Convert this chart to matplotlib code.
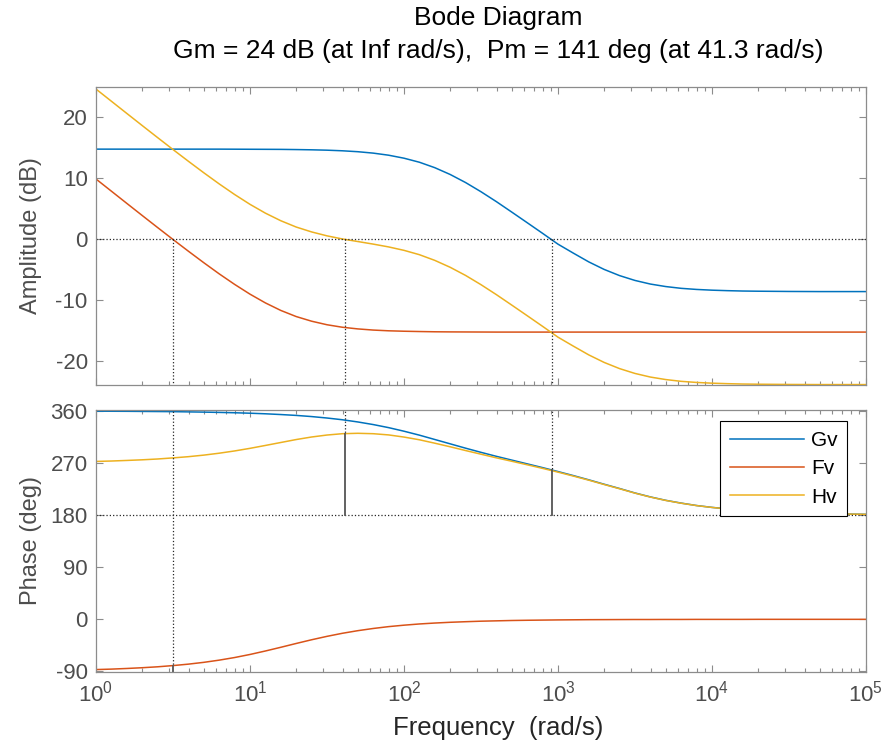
import matplotlib.pyplot as plt
from matplotlib.ticker import LogLocator, NullFormatter

plt.rcParams['font.family'] = ['Liberation Sans', 'DejaVu Sans']
plt.rcParams['axes.unicode_minus'] = False

# frequency grid (rad/s), 10 points per decade
w = [1, 1.259, 1.585, 1.995, 2.512, 3.162, 3.981, 5.012, 6.310, 7.943,
     10, 12.59, 15.85, 19.95, 25.12, 31.62, 39.81, 50.12, 63.10, 79.43,
     100, 125.9, 158.5, 199.5, 251.2, 316.2, 398.1, 501.2, 631.0, 794.3,
     1000, 1259, 1585, 1995, 2512, 3162, 3981, 5012, 6310, 7943,
     10000, 12590, 15850, 19950, 25120, 31620, 39810, 50120, 63100, 79430,
     100000]

# magnitudes (dB)
gv_mag = [14.70, 14.70, 14.70, 14.70, 14.70, 14.70, 14.70, 14.70, 14.70, 14.69,
          14.68, 14.67, 14.66, 14.63, 14.59, 14.53, 14.43, 14.28, 14.05, 13.71,
          13.22, 12.56, 11.67, 10.56, 9.24, 7.74, 6.12, 4.41, 2.68, 0.94,
          -0.83, -2.30, -3.73, -4.96, -5.97, -6.76, -7.35, -7.76, -8.05, -8.23,
          -8.35, -8.43, -8.49, -8.52, -8.54, -8.56, -8.57, -8.58, -8.58, -8.58,
          -8.58]
fv_mag = [9.82, 7.83, 5.84, 3.86, 1.89, -0.06, -1.98, -3.86, -5.68, -7.40,
          -9.00, -10.43, -11.66, -12.66, -13.42, -14.00, -14.41, -14.68, -14.87, -14.99,
          -15.06, -15.11, -15.15, -15.17, -15.18, -15.19, -15.20, -15.20, -15.20, -15.20,
          -15.20, -15.20, -15.20, -15.20, -15.20, -15.20, -15.20, -15.20, -15.20, -15.20,
          -15.20, -15.20, -15.20, -15.20, -15.20, -15.20, -15.20, -15.20, -15.20, -15.20,
          -15.20]
hv_mag = [24.52, 22.53, 20.54, 18.56, 16.59, 14.64, 12.72, 10.84, 9.02, 7.29,
          5.68, 4.24, 3.00, 1.97, 1.17, 0.53, 0.02, -0.40, -0.82, -1.28,
          -1.84, -2.55, -3.48, -4.61, -5.94, -7.45, -9.08, -10.79, -12.52, -14.26,
          -16.03, -17.50, -18.93, -20.16, -21.17, -21.96, -22.55, -22.96, -23.25, -23.43,
          -23.55, -23.63, -23.69, -23.72, -23.74, -23.76, -23.77, -23.78, -23.78, -23.78,
          -23.78]

# phases (deg)
gv_ph = [359.6, 359.5, 359.4, 359.2, 359.0, 358.8, 358.4, 358.0, 357.5, 356.9,
         356.1, 355.1, 353.8, 352.3, 350.3, 347.8, 344.8, 341.0, 336.5, 331.2,
         325.0, 318.2, 310.7, 303.2, 295.7, 288.5, 281.6, 275.1, 268.6, 262.1,
         255.3, 248.3, 241.0, 233.4, 226.0, 218.3, 211.5, 205.6, 200.8, 196.6,
         193.4, 190.8, 188.6, 186.9, 185.6, 184.4, 183.5, 182.8, 182.2, 181.8,
         181.4]
fv_ph = [-86.8, -86.0, -84.9, -83.6, -82.0, -79.9, -77.4, -74.3, -70.5, -66.0,
         -60.7, -54.7, -48.3, -41.7, -35.3, -29.4, -24.1, -19.6, -15.8, -12.6,
         -10.1, -8.0, -6.4, -5.1, -4.1, -3.2, -2.6, -2.0, -1.6, -1.3,
         -1.0, -0.8, -0.6, -0.5, -0.4, -0.3, -0.3, -0.2, -0.2, -0.1,
         -0.1, -0.1, -0.1, 0.0, 0.0, 0.0, 0.0, 0.0, 0.0, 0.0,
         0.0]
hv_ph = [272.8, 273.5, 274.5, 275.6, 277.0, 278.9, 281.0, 283.7, 287.0, 290.9,
         295.4, 300.4, 305.5, 310.6, 315.0, 318.4, 320.7, 321.4, 320.7, 318.6,
         314.9, 310.2, 304.3, 298.1, 291.6, 285.3, 279.0, 273.1, 267.0, 260.8,
         254.3, 247.5, 240.4, 232.9, 225.6, 218.0, 211.2, 205.4, 200.6, 196.5,
         193.3, 190.7, 188.5, 186.9, 185.5, 184.4, 183.5, 182.8, 182.2, 181.8,
         181.4]

# 0 dB crossover frequencies and the phase there (Fv, Hv, Gv)
wc = [3.16, 41.3, 910]
ph_c = [-80, 321, 258]

names = ['Gv', 'Fv', 'Hv']
colors = ['#0072BD', '#D95319', '#EDB120']

gray = '#4d4d4d'
spine = '#8c8c8c'
mark = '#262626'

fig = plt.figure(figsize=(8.87, 7.47), dpi=100)
ax1 = fig.add_axes([0.1082, 0.4850, 0.8681, 0.3989])
ax2 = fig.add_axes([0.1082, 0.1000, 0.8681, 0.3518])

for mag, ph, name, c in zip([gv_mag, fv_mag, hv_mag], [gv_ph, fv_ph, hv_ph], names, colors):
    ax1.plot(w, mag, color=c, lw=1.1)
    ax2.plot(w, ph, color=c, lw=1.1, label=name)

# margin markers
ax1.axhline(0, color=mark, ls=':', lw=0.9)
ax2.axhline(180, color=mark, ls=':', lw=0.9)
for f, p in zip(wc, ph_c):
    ax1.plot([f, f], [0, -40], color=mark, ls=':', lw=0.9)
    ax2.plot([f, f], [400, p], color=mark, ls=':', lw=0.9)
    ax2.plot([f, f], [p, 180 if p > 180 else -180], color='#555555', lw=1.3)

for ax in (ax1, ax2):
    ax.set_xscale('log')
    ax.set_xlim(1, 1e5)
    ax.xaxis.set_major_locator(LogLocator(base=10, numticks=10))
    ax.xaxis.set_minor_locator(LogLocator(base=10, subs=range(2, 10), numticks=10))
    ax.xaxis.set_minor_formatter(NullFormatter())
    ax.tick_params(which='both', direction='in', top=True, right=True,
                   colors=spine, labelcolor=gray, labelsize=16, pad=6)
    ax.tick_params(which='major', length=5, width=0.8)
    ax.tick_params(which='minor', length=3, width=0.8)
    for s in ax.spines.values():
        s.set_color(spine)
        s.set_linewidth(0.9)

ax1.set_ylim(-23.8, 24.9)
ax1.set_yticks([-20, -10, 0, 10, 20])
ax1.tick_params(labelbottom=False)
ax2.set_ylim(-91.5, 362.5)
ax2.set_yticks([-90, 0, 90, 180, 270, 360])

ax1.set_ylabel('Amplitude (dB)', fontsize=17, color=gray)
ax2.set_ylabel('Phase (deg)', fontsize=17, color=gray)
ax1.yaxis.set_label_coords(-0.070, 0.5)
ax2.yaxis.set_label_coords(-0.070, 0.5)

fig.text(0.5615, 0.026, 'Frequency  (rad/s)', ha='center', va='center',
         fontsize=18.5, color='#262626')
fig.text(0.5615, 0.976, 'Bode Diagram', ha='center', va='center', fontsize=19)
fig.text(0.5615, 0.932, 'Gm = 24 dB (at Inf rad/s),  Pm = 141 deg (at 41.3 rad/s)',
         ha='center', va='center', fontsize=19)

leg = ax2.legend(loc='upper right', bbox_to_anchor=(1 - 19 / 770, 1 - 12 / 263),
                 borderaxespad=0, fontsize=15, handlelength=3.55, handletextpad=0.35,
                 labelspacing=0.45, borderpad=0.45, fancybox=False, framealpha=1,
                 edgecolor='black')
leg.get_frame().set_linewidth(0.8)

fig.savefig('out.png', dpi=100)
